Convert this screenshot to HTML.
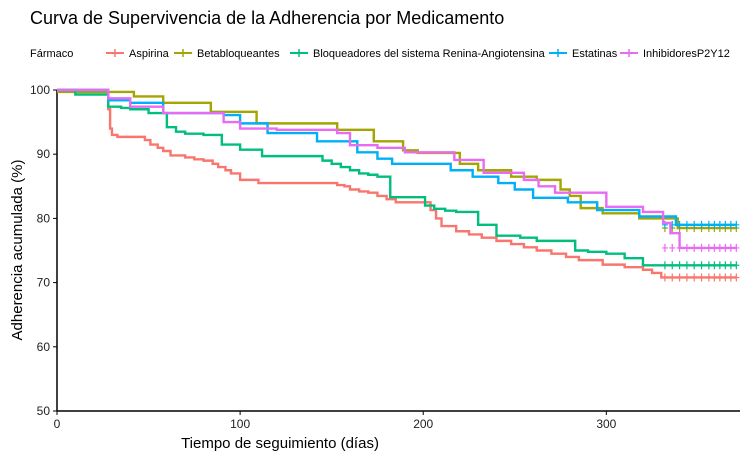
<!DOCTYPE html>
<html><head><meta charset="utf-8">
<style>
body{margin:0;background:#fff;font-family:"Liberation Sans",sans-serif;}
svg text{font-family:"Liberation Sans",sans-serif;}
</style></head>
<body>
<svg id="chart" width="750" height="462">
<text x="30" y="24" font-size="18" fill="#000">Curva de Supervivencia de la Adherencia por Medicamento</text>
<g id="legend"></g>
<g id="axes"></g>
<g id="plot"></g>
<text x="280" y="448" font-size="15" text-anchor="middle">Tiempo de seguimiento (días)</text>
<text transform="translate(22,250) rotate(-90)" font-size="15" text-anchor="middle">Adherencia acumulada (%)</text>
</svg>
<script>
const seriesNames=["Aspirina","Betabloqueantes","Bloqueadores del sistema Renina-Angiotensina","Estatinas","InhibidoresP2Y12"];
const seriesColors=["#F8766D","#A3A500","#00BF7D","#00B0F6","#E76BF3"];
const xTicks=[0,100,200,300];
const yTicks=[50,60,70,80,90,100];
const aspT=[0,28,29,30,33,48,51,55,58,62,70,75,80,85,88,92,95,100,110,150,153,157,160,165,170,175,180,185,204,207,210,218,225,232,240,248,255,262,270,278,285,298,310,320,325,330];
const aspV=[100,97,94,93,92.7,92.2,91.5,91,90.5,89.8,89.5,89.2,89,88.5,88,87.5,87,86,85.5,85.5,85.2,85,84.5,84.2,84,83.5,83,82.5,81.3,80,78.8,78,77.5,77,76.5,76,75.5,75,74.5,74,73.5,72.8,72.4,72,71.5,70.8];
const betT=[0,42,58,84,109,153,173,189,197,220,230,248,262,275,280,286,298,318,339];
const betV=[99.7,99,98,96.6,94.8,93.8,92,90.6,90.2,88.5,87.5,86.5,86,84.5,83.5,81.6,80.8,80,78.5];
const braT=[0,10,28,35,40,50,60,65,70,80,90,100,112,145,150,155,160,165,170,175,182,201,206,212,218,230,240,253,262,283,290,300,310,320];
const braV=[100,99.3,97.4,97.2,97,96.4,94.2,93.5,93.2,93,91.5,90.7,89.7,89,88.5,88,87.5,87,86.8,86.5,83.3,82,81.5,81.2,81,79,77.3,77,76.5,75,74.8,74.5,73.8,72.7];
const estT=[0,28,40,58,91,100,115,142,164,175,183,215,227,241,250,260,279,295,318,338];
const estV=[100,98.4,98,96.4,96.1,94.8,93.3,92,90.3,89.3,88.5,87.5,86.5,85.5,84.5,83.2,82.5,81.3,80.3,79];
const inhT=[0,28,40,58,91,100,120,153,160,175,190,217,233,255,263,272,300,320,331,335,340];
const inhV=[100,98.7,97.4,96.4,95,94,93.8,93.3,91.4,91,90.3,89.1,87.1,86,85,84,81.8,81,79.3,77.7,75.4];
const censorT=[332,336,340,344,348,352,356,359,362,365,368,371];
const allT=[aspT,betT,braT,estT,inhT], allV=[aspV,betV,braV,estV,inhV];
const X0=57,X1=740,Y0=90,Y1=411,TMAX=373;
const sx=t=>X0+t/TMAX*(X1-X0);
const sy=v=>Y1-(v-50)/50*(Y1-Y0);
const NS="http://www.w3.org/2000/svg";
function mk(tag,attrs,parent){const e=document.createElementNS(NS,tag);for(const k in attrs)e.setAttribute(k,attrs[k]);parent.appendChild(e);return e;}
const axes=document.getElementById('axes'),plot=document.getElementById('plot'),leg=document.getElementById('legend');
const yax=mk('line',{x1:X0,x2:X0,y1:Y0,y2:Y1,stroke:'#000','stroke-width':1.5},axes);

const xax=mk('line',{x1:X0,x2:X1,y1:Y1,y2:Y1,stroke:'#000','stroke-width':1.5},axes);

yTicks.forEach(v=>{mk('line',{x1:X0-4,x2:X0,y1:sy(v),y2:sy(v),stroke:'#000'},axes);
 const t=mk('text',{x:X0-7,y:sy(v)+4,'font-size':12,'text-anchor':'end',fill:'#222'},axes);t.textContent=v;
 });
xTicks.forEach(v=>{mk('line',{x1:sx(v),x2:sx(v),y1:Y1,y2:Y1+4,stroke:'#000'},axes);
 const t=mk('text',{x:sx(v),y:Y1+17,'font-size':12,'text-anchor':'middle',fill:'#222'},axes);t.textContent=v;
 });
allT.forEach((T,i)=>{const V=allV[i];let d=`M${sx(T[0])},${sy(V[0])}`;
 for(let k=1;k<T.length;k++){d+=`H${sx(T[k])}V${sy(V[k])}`;}
 d+=`H${sx(371)}`;
 const p=mk('path',{d:d,fill:'none',stroke:seriesColors[i],'stroke-width':2.4},plot);
 
 
 const last=V[V.length-1];
 censorT.forEach(c=>{const y=sy(last);mk('path',{d:`M${sx(c)-3},${y}H${sx(c)+3}M${sx(c)},${y-4}V${y+4}`,stroke:seriesColors[i],'stroke-width':1.2},plot);});
});
let lx=30;const ft=mk('text',{x:lx,y:57,'font-size':11},leg);ft.textContent='Fármaco';

const lpos=[108,176,292,551,622];
seriesNames.forEach((n,i)=>{const g=mk('g',{},leg);
 
 const x=lpos[i];
 mk('line',{x1:x-2,x2:x+16,y1:53,y2:53,stroke:seriesColors[i],'stroke-width':2},g);
 mk('path',{d:`M${x+3},53H${x+11}M${x+7},49V57`,stroke:seriesColors[i],'stroke-width':1.5},g);
 const t=mk('text',{x:x+21,y:57,'font-size':11},g);t.textContent=n;});
</script>
</body></html>
